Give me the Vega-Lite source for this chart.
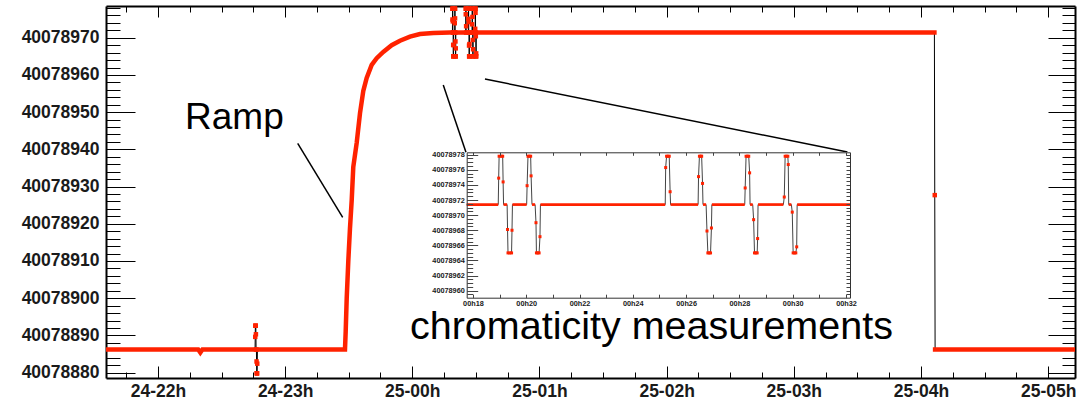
{
  "$schema": "https://vega.github.io/schema/vega-lite/v6.json",
  "width": 969,
  "height": 372,
  "autosize": {"type": "none"},
  "padding": {"left": 106, "top": 6, "right": 9, "bottom": 21},
  "background": "white",
  "config": {
    "view": {"stroke": null},
    "axis": {"grid": false, "labelFont": "Liberation Sans", "labelFontWeight": "bold", "labelColor": "#1a1a1a", "tickColor": "#000", "domainColor": "#000"}
  },
  "datasets": {
    "drift": [
      {"t": "2012-10-24T21:35:30", "v": 40078886.2, "seg": "s0"},
      {"t": "2012-10-24T22:19:00", "v": 40078886.2, "seg": "s0"},
      {"t": "2012-10-24T22:20:00", "v": 40078885.4, "seg": "s0"},
      {"t": "2012-10-24T22:21:00", "v": 40078886.2, "seg": "s0"},
      {"t": "2012-10-24T22:45:50", "v": 40078886.2, "seg": "s0"},
      {"t": "2012-10-24T22:45:54", "v": 40078889.6},
      {"t": "2012-10-24T22:45:58", "v": 40078892.6},
      {"t": "2012-10-24T22:46:04", "v": 40078892.6},
      {"t": "2012-10-24T22:46:10", "v": 40078892.6},
      {"t": "2012-10-24T22:46:14", "v": 40078890.3},
      {"t": "2012-10-24T22:46:18", "v": 40078886.2, "seg": "s1"},
      {"t": "2012-10-24T22:46:28", "v": 40078886.2, "seg": "s1"},
      {"t": "2012-10-24T22:46:32", "v": 40078883.0},
      {"t": "2012-10-24T22:46:36", "v": 40078879.8},
      {"t": "2012-10-24T22:46:42", "v": 40078879.8},
      {"t": "2012-10-24T22:46:48", "v": 40078879.8},
      {"t": "2012-10-24T22:46:52", "v": 40078882.4},
      {"t": "2012-10-24T22:46:56", "v": 40078886.2, "seg": "s2"},
      {"t": "2012-10-24T23:28:15", "v": 40078886.2, "seg": "s2"},
      {"t": "2012-10-24T23:28:35", "v": 40078891.0, "seg": "s2"},
      {"t": "2012-10-24T23:29:04", "v": 40078900.0, "seg": "s2"},
      {"t": "2012-10-24T23:29:49", "v": 40078910.0, "seg": "s2"},
      {"t": "2012-10-24T23:30:36", "v": 40078918.7, "seg": "s2"},
      {"t": "2012-10-24T23:31:25", "v": 40078926.3, "seg": "s2"},
      {"t": "2012-10-24T23:32:10", "v": 40078935.3, "seg": "s2"},
      {"t": "2012-10-24T23:33:46", "v": 40078941.7, "seg": "s2"},
      {"t": "2012-10-24T23:35:20", "v": 40078949.7, "seg": "s2"},
      {"t": "2012-10-24T23:36:53", "v": 40078955.7, "seg": "s2"},
      {"t": "2012-10-24T23:38:29", "v": 40078959.2, "seg": "s2"},
      {"t": "2012-10-24T23:40:51", "v": 40078962.7, "seg": "s2"},
      {"t": "2012-10-24T23:43:13", "v": 40078964.5, "seg": "s2"},
      {"t": "2012-10-24T23:46:19", "v": 40078966.2, "seg": "s2"},
      {"t": "2012-10-24T23:50:17", "v": 40078968.0, "seg": "s2"},
      {"t": "2012-10-24T23:54:12", "v": 40078969.2, "seg": "s2"},
      {"t": "2012-10-24T23:58:55", "v": 40078970.3, "seg": "s2"},
      {"t": "2012-10-25T00:03:38", "v": 40078971.0, "seg": "s2"},
      {"t": "2012-10-25T00:09:54", "v": 40078971.3, "seg": "s2"},
      {"t": "2012-10-25T00:17:46", "v": 40078971.4, "seg": "s2"},
      {"t": "2012-10-25T00:18:57", "v": 40078971.4, "seg": "s2"},
      {"t": "2012-10-25T00:18:58", "v": 40078974.9},
      {"t": "2012-10-25T00:18:59", "v": 40078977.8},
      {"t": "2012-10-25T00:19:04", "v": 40078977.8},
      {"t": "2012-10-25T00:19:07", "v": 40078977.8},
      {"t": "2012-10-25T00:19:08", "v": 40078974.4},
      {"t": "2012-10-25T00:19:09", "v": 40078971.4, "seg": "s3"},
      {"t": "2012-10-25T00:19:17", "v": 40078971.4, "seg": "s3"},
      {"t": "2012-10-25T00:19:18", "v": 40078968.1},
      {"t": "2012-10-25T00:19:19", "v": 40078965.0},
      {"t": "2012-10-25T00:19:23", "v": 40078965.0},
      {"t": "2012-10-25T00:19:27", "v": 40078965.0},
      {"t": "2012-10-25T00:19:28", "v": 40078968.0},
      {"t": "2012-10-25T00:19:29", "v": 40078971.4, "seg": "s4"},
      {"t": "2012-10-25T00:20:01", "v": 40078971.4, "seg": "s4"},
      {"t": "2012-10-25T00:20:02", "v": 40078973.9},
      {"t": "2012-10-25T00:20:04", "v": 40078977.8},
      {"t": "2012-10-25T00:20:07", "v": 40078977.8},
      {"t": "2012-10-25T00:20:10", "v": 40078977.8},
      {"t": "2012-10-25T00:20:11", "v": 40078975.2},
      {"t": "2012-10-25T00:20:13", "v": 40078971.4, "seg": "s5"},
      {"t": "2012-10-25T00:20:20", "v": 40078971.4, "seg": "s5"},
      {"t": "2012-10-25T00:20:22", "v": 40078969.0},
      {"t": "2012-10-25T00:20:23", "v": 40078965.0},
      {"t": "2012-10-25T00:20:26", "v": 40078965.0},
      {"t": "2012-10-25T00:20:29", "v": 40078965.0},
      {"t": "2012-10-25T00:20:31", "v": 40078967.15},
      {"t": "2012-10-25T00:20:32", "v": 40078971.4, "seg": "s6"},
      {"t": "2012-10-25T00:25:13", "v": 40078971.4, "seg": "s6"},
      {"t": "2012-10-25T00:25:14", "v": 40078976.3},
      {"t": "2012-10-25T00:25:16", "v": 40078977.8},
      {"t": "2012-10-25T00:25:19", "v": 40078977.8},
      {"t": "2012-10-25T00:25:22", "v": 40078977.8},
      {"t": "2012-10-25T00:25:24", "v": 40078973.1},
      {"t": "2012-10-25T00:25:25", "v": 40078971.4, "seg": "s7"},
      {"t": "2012-10-25T00:26:27", "v": 40078971.4, "seg": "s7"},
      {"t": "2012-10-25T00:26:28", "v": 40078975.1},
      {"t": "2012-10-25T00:26:30", "v": 40078977.8},
      {"t": "2012-10-25T00:26:33", "v": 40078977.8},
      {"t": "2012-10-25T00:26:35", "v": 40078977.8},
      {"t": "2012-10-25T00:26:37", "v": 40078974.2},
      {"t": "2012-10-25T00:26:38", "v": 40078971.4, "seg": "s8"},
      {"t": "2012-10-25T00:26:45", "v": 40078971.4, "seg": "s8"},
      {"t": "2012-10-25T00:26:47", "v": 40078967.9},
      {"t": "2012-10-25T00:26:49", "v": 40078965.0},
      {"t": "2012-10-25T00:26:52", "v": 40078965.0},
      {"t": "2012-10-25T00:26:55", "v": 40078965.0},
      {"t": "2012-10-25T00:26:57", "v": 40078968.3},
      {"t": "2012-10-25T00:26:58", "v": 40078971.4, "seg": "s9"},
      {"t": "2012-10-25T00:28:12", "v": 40078971.4, "seg": "s9"},
      {"t": "2012-10-25T00:28:13", "v": 40078973.6},
      {"t": "2012-10-25T00:28:15", "v": 40078977.8},
      {"t": "2012-10-25T00:28:18", "v": 40078977.8},
      {"t": "2012-10-25T00:28:21", "v": 40078977.8},
      {"t": "2012-10-25T00:28:23", "v": 40078975.6},
      {"t": "2012-10-25T00:28:24", "v": 40078971.4, "seg": "s10"},
      {"t": "2012-10-25T00:28:30", "v": 40078971.4, "seg": "s10"},
      {"t": "2012-10-25T00:28:32", "v": 40078969.4},
      {"t": "2012-10-25T00:28:34", "v": 40078965.0},
      {"t": "2012-10-25T00:28:37", "v": 40078965.0},
      {"t": "2012-10-25T00:28:40", "v": 40078965.0},
      {"t": "2012-10-25T00:28:41", "v": 40078966.9},
      {"t": "2012-10-25T00:28:42", "v": 40078971.4, "seg": "s11"},
      {"t": "2012-10-25T00:29:39", "v": 40078971.4, "seg": "s11"},
      {"t": "2012-10-25T00:29:41", "v": 40078972.4},
      {"t": "2012-10-25T00:29:43", "v": 40078977.8},
      {"t": "2012-10-25T00:29:46", "v": 40078977.8},
      {"t": "2012-10-25T00:29:49", "v": 40078977.8},
      {"t": "2012-10-25T00:29:50", "v": 40078976.7},
      {"t": "2012-10-25T00:29:51", "v": 40078971.4, "seg": "s12"},
      {"t": "2012-10-25T00:29:57", "v": 40078971.4, "seg": "s12"},
      {"t": "2012-10-25T00:29:59", "v": 40078970.4},
      {"t": "2012-10-25T00:30:01", "v": 40078965.0},
      {"t": "2012-10-25T00:30:04", "v": 40078965.0},
      {"t": "2012-10-25T00:30:07", "v": 40078965.0},
      {"t": "2012-10-25T00:30:09", "v": 40078965.8},
      {"t": "2012-10-25T00:30:10", "v": 40078971.4, "seg": "s13"},
      {"t": "2012-10-25T00:32:09", "v": 40078971.4, "seg": "s13"},
      {"t": "2012-10-25T04:06:20", "v": 40078971.4, "seg": "s13"},
      {"t": "2012-10-25T04:06:30", "v": 40078927.7},
      {"t": "2012-10-25T04:06:40", "v": 40078886.2, "seg": "s14"},
      {"t": "2012-10-25T05:12:40", "v": 40078886.2, "seg": "s14"}
    ]
  },
  "resolve": {"scale": {"x": "independent", "y": "independent"}, "axis": {"x": "independent", "y": "independent"}},
  "layer": [
    {
      "data": {"name": "drift"},
      "mark": {"type": "line", "color": "#000", "strokeWidth": 1, "clip": true},
      "encoding": {
        "x": {"field": "t", "type": "temporal",
          "scale": {"domain": [{"expr": "datetime(2012, 9, 24, 21, 35, 30)"}, {"expr": "datetime(2012, 9, 25, 5, 12, 40)"}], "nice": false},
          "axis": {"orient": "bottom", "title": null, "ticks": false, "domain": true, "domainWidth": 2, "tickCount": "hour", "format": "%d-%Hh", "labelFontSize": 17.5, "labelPadding": 4}},
        "y": {"field": "v", "type": "quantitative",
          "scale": {"domain": [40078878.55, 40078978.53], "nice": false, "zero": false},
          "axis": {"orient": "left", "title": null, "ticks": false, "domain": true, "domainWidth": 2, "values": [40078880, 40078890, 40078900, 40078910, 40078920, 40078930, 40078940, 40078950, 40078960, 40078970], "format": "d", "labelFontSize": 17.5, "labelPadding": 7}}
      }
    },
    {
      "data": {"name": "drift"},
      "transform": [{"filter": "isValid(datum.seg)"}],
      "mark": {"type": "line", "color": "#ff2200", "strokeWidth": 4.5, "strokeCap": "square", "clip": true},
      "encoding": {
        "detail": {"field": "seg", "type": "nominal"},
        "x": {"field": "t", "type": "temporal",
          "scale": {"domain": [{"expr": "datetime(2012, 9, 24, 21, 35, 30)"}, {"expr": "datetime(2012, 9, 25, 5, 12, 40)"}], "nice": false},
          "axis": {"orient": "bottom", "title": null, "labels": false, "domain": false, "tickSize": -12, "tickCount": "hour"}},
        "y": {"field": "v", "type": "quantitative",
          "scale": {"domain": [40078878.55, 40078978.53], "nice": false, "zero": false},
          "axis": {"orient": "right", "offset": -955, "title": null, "labels": false, "domain": false, "tickSize": -14, "tickCount": 50}}
      }
    },
    {
      "data": {"name": "drift"},
      "transform": [{"filter": "!isValid(datum.seg)"}],
      "mark": {"type": "square", "color": "#ff2200", "size": 20, "opacity": 1, "clip": true},
      "encoding": {
        "x": {"field": "t", "type": "temporal",
          "scale": {"domain": [{"expr": "datetime(2012, 9, 24, 21, 35, 30)"}, {"expr": "datetime(2012, 9, 25, 5, 12, 40)"}], "nice": false},
          "axis": {"orient": "bottom", "title": null, "labels": false, "domain": false, "tickSize": -6, "values": {"expr": "sequence(time(datetime(2012, 9, 24, 21, 45)), time(datetime(2012, 9, 25, 5, 15)), 900000)"}}},
        "y": {"field": "v", "type": "quantitative",
          "scale": {"domain": [40078878.55, 40078978.53], "nice": false, "zero": false},
          "axis": null}
      }
    },
    {
      "data": {"values": [
        {"t": "2012-10-24T22:12:47", "v": 40078945.6, "note": "Ramp"}
      ], "format": {"parse": {"t": "date"}}},
      "mark": {"type": "text", "align": "left", "baseline": "alphabetic", "fontSize": 37, "font": "Liberation Sans", "color": "#000"},
      "encoding": {
        "text": {"field": "note", "type": "nominal"},
        "x": {"field": "t", "type": "temporal",
          "scale": {"domain": [{"expr": "datetime(2012, 9, 24, 21, 35, 30)"}, {"expr": "datetime(2012, 9, 25, 5, 12, 40)"}], "nice": false},
          "axis": {"orient": "top", "title": null, "labels": false, "domain": true, "domainWidth": 2, "tickSize": -11, "tickCount": "hour"}},
        "y": {"field": "v", "type": "quantitative",
          "scale": {"domain": [40078878.55, 40078978.53], "nice": false, "zero": false},
          "axis": {"orient": "right", "title": null, "labels": false, "domain": true, "domainWidth": 2, "tickSize": -27, "values": [40078880, 40078890, 40078900, 40078910, 40078920, 40078930, 40078940, 40078950, 40078960, 40078970]}}
      }
    },
    {
      "data": {"values": [
        {"t": "2012-10-24T23:58:55", "v": 40078888.9, "note": "chromaticity measurements"}
      ], "format": {"parse": {"t": "date"}}},
      "mark": {"type": "text", "align": "left", "baseline": "alphabetic", "fontSize": 39.5, "font": "Liberation Sans", "color": "#000"},
      "encoding": {
        "text": {"field": "note", "type": "nominal"},
        "x": {"field": "t", "type": "temporal",
          "scale": {"domain": [{"expr": "datetime(2012, 9, 24, 21, 35, 30)"}, {"expr": "datetime(2012, 9, 25, 5, 12, 40)"}], "nice": false},
          "axis": null},
        "y": {"field": "v", "type": "quantitative",
          "scale": {"domain": [40078878.55, 40078978.53], "nice": false, "zero": false},
          "axis": {"orient": "right", "offset": -940, "title": null, "labels": false, "domain": false, "tickSize": -29, "values": [40078880, 40078890, 40078900, 40078910, 40078920, 40078930, 40078940, 40078950, 40078960, 40078970]}}
      }
    },
    {
      "data": {"values": [
        {"t": "2012-10-24T23:05:56", "v": 40078941.6, "t2": "2012-10-24T23:27:10", "v2": 40078921.7},
        {"t": "2012-10-25T00:14:37", "v": 40078957.3, "t2": "2012-10-25T00:25:20", "v2": 40078939.2},
        {"t": "2012-10-25T00:34:17", "v": 40078958.9, "t2": "2012-10-25T03:25:18", "v2": 40078939.3}
      ], "format": {"parse": {"t": "date", "t2": "date"}}},
      "mark": {"type": "rule", "color": "#000", "strokeWidth": 1.5},
      "encoding": {
        "x": {"field": "t", "type": "temporal",
          "scale": {"domain": [{"expr": "datetime(2012, 9, 24, 21, 35, 30)"}, {"expr": "datetime(2012, 9, 25, 5, 12, 40)"}], "nice": false},
          "axis": {"orient": "top", "title": null, "labels": false, "domain": false, "tickSize": -6, "values": {"expr": "sequence(time(datetime(2012, 9, 24, 21, 45)), time(datetime(2012, 9, 25, 5, 15)), 900000)"}}},
        "x2": {"field": "t2"},
        "y": {"field": "v", "type": "quantitative",
          "scale": {"domain": [40078878.55, 40078978.53], "nice": false, "zero": false},
          "axis": {"orient": "right", "title": null, "labels": false, "domain": false, "tickSize": -13, "tickCount": 50}},
        "y2": {"field": "v2"}
      }
    },
    {
      "data": {"values": [
        {"t": "2012-10-25T00:17:46", "t2": "2012-10-25T00:32:09", "v": 40078959.07, "v2": 40078978.32}
      ], "format": {"parse": {"t": "date", "t2": "date"}}},
      "mark": {"type": "rect", "color": "#fff", "opacity": 1},
      "encoding": {
        "x": {"field": "t", "type": "temporal",
          "scale": {"domain": [{"expr": "datetime(2012, 9, 25, 0, 17, 46)"}, {"expr": "datetime(2012, 9, 25, 0, 32, 9)"}], "range": [360.7, 744], "nice": false},
          "axis": {"orient": "top", "offset": -146.3, "zindex": 1, "title": null, "labels": false, "domain": true, "domainColor": "#333", "domainWidth": 1, "tickSize": -3, "tickColor": "#444", "values": {"expr": "sequence(time(datetime(2012, 9, 25, 0, 18)), time(datetime(2012, 9, 25, 0, 33)), 60000)"}}},
        "x2": {"field": "t2"},
        "y": {"field": "v", "type": "quantitative",
          "scale": {"domain": [40078959.07, 40078978.32], "range": [291.7, 146.3], "nice": false, "zero": false},
          "axis": {"orient": "right", "offset": -225, "zindex": 1, "title": null, "labels": false, "domain": true, "domainColor": "#333", "domainWidth": 1, "tickSize": -4, "tickColor": "#444", "tickCount": 40}},
        "y2": {"field": "v2"}
      }
    },
    {
      "data": {"name": "drift"},
      "transform": [{"filter": "toDate(datum.t) >= time(datetime(2012, 9, 25, 0, 17, 46)) && toDate(datum.t) <= time(datetime(2012, 9, 25, 0, 32, 9))"}],
      "mark": {"type": "line", "color": "#444", "strokeWidth": 1},
      "encoding": {
        "x": {"field": "t", "type": "temporal",
          "scale": {"domain": [{"expr": "datetime(2012, 9, 25, 0, 17, 46)"}, {"expr": "datetime(2012, 9, 25, 0, 32, 9)"}], "range": [360.7, 744], "nice": false},
          "axis": {"orient": "bottom", "offset": -80.3, "zindex": 1, "title": null, "ticks": false, "domain": true, "domainColor": "#333", "domainWidth": 1, "values": {"expr": "sequence(time(datetime(2012, 9, 25, 0, 18)), time(datetime(2012, 9, 25, 0, 33)), 120000)"}, "format": "%Hh%M", "labelFontSize": 7.3, "labelPadding": 1.5}},
        "y": {"field": "v", "type": "quantitative",
          "scale": {"domain": [40078959.07, 40078978.32], "range": [291.7, 146.3], "nice": false, "zero": false},
          "axis": {"orient": "left", "offset": -360.7, "zindex": 1, "title": null, "ticks": false, "domain": true, "domainColor": "#333", "domainWidth": 1, "values": [40078960, 40078962, 40078964, 40078966, 40078968, 40078970, 40078972, 40078974, 40078976, 40078978], "format": "d", "labelFontSize": 7.3, "labelPadding": 2.4}}
      }
    },
    {
      "data": {"name": "drift"},
      "transform": [
        {"filter": "toDate(datum.t) >= time(datetime(2012, 9, 25, 0, 17, 46)) && toDate(datum.t) <= time(datetime(2012, 9, 25, 0, 32, 9))"},
        {"filter": "isValid(datum.seg)"}
      ],
      "mark": {"type": "line", "color": "#ff2200", "strokeWidth": 2.7},
      "encoding": {
        "detail": {"field": "seg", "type": "nominal"},
        "x": {"field": "t", "type": "temporal",
          "scale": {"domain": [{"expr": "datetime(2012, 9, 25, 0, 17, 46)"}, {"expr": "datetime(2012, 9, 25, 0, 32, 9)"}], "range": [360.7, 744], "nice": false},
          "axis": {"orient": "bottom", "offset": -80.3, "zindex": 1, "title": null, "labels": false, "domain": false, "tickSize": -3.5, "tickColor": "#444", "values": {"expr": "sequence(time(datetime(2012, 9, 25, 0, 18)), time(datetime(2012, 9, 25, 0, 33)), 60000)"}}},
        "y": {"field": "v", "type": "quantitative",
          "scale": {"domain": [40078959.07, 40078978.32], "range": [291.7, 146.3], "nice": false, "zero": false},
          "axis": {"orient": "right", "offset": -597.3, "zindex": 1, "title": null, "labels": false, "domain": false, "tickSize": -11, "tickColor": "#444", "values": [40078960, 40078962, 40078964, 40078966, 40078968, 40078970, 40078972, 40078974, 40078976, 40078978]}}
      }
    },
    {
      "data": {"name": "drift"},
      "transform": [
        {"filter": "toDate(datum.t) >= time(datetime(2012, 9, 25, 0, 17, 46)) && toDate(datum.t) <= time(datetime(2012, 9, 25, 0, 32, 9))"},
        {"filter": "!isValid(datum.seg)"}
      ],
      "mark": {"type": "square", "color": "#ff2200", "size": 9, "opacity": 1},
      "encoding": {
        "x": {"field": "t", "type": "temporal",
          "scale": {"domain": [{"expr": "datetime(2012, 9, 25, 0, 17, 46)"}, {"expr": "datetime(2012, 9, 25, 0, 32, 9)"}], "range": [360.7, 744], "nice": false},
          "axis": null},
        "y": {"field": "v", "type": "quantitative",
          "scale": {"domain": [40078959.07, 40078978.32], "range": [291.7, 146.3], "nice": false, "zero": false},
          "axis": {"orient": "right", "offset": -602.3, "zindex": 1, "title": null, "labels": false, "domain": false, "tickSize": -6, "tickColor": "#444", "tickCount": 40}}
      }
    }
  ]
}
